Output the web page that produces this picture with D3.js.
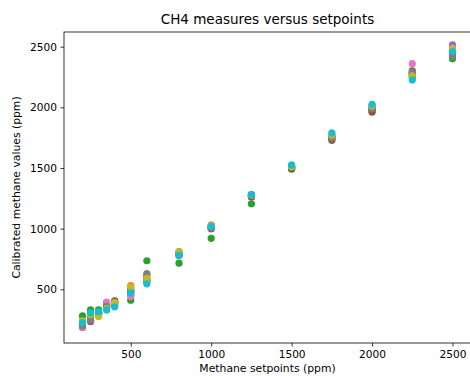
<!DOCTYPE html>
<html><head><meta charset="utf-8">
<script src="https://cdn.jsdelivr.net/npm/d3@7"></script>
<style>body{margin:0;background:#fff;}svg{display:block;font-family:"DejaVu Sans",sans-serif;}</style>
</head><body><svg id="c" width="470" height="376"></svg>
<script>
const setpoints = [200,250,300,350,400,500,600,800,1000,1250,1500,1750,2000,2250,2500];
const s0 = [210,270,300,350,380,480,570,780,1000,1260,1500,1760,1990,2260,2450];
const s1 = [240,300,310,360,390,530,590,800,1020,1270,1510,1770,2000,2270,2480];
const s2 = [280,330,330,370,400,410,735,715,920,1205,1490,1730,1970,2250,2400];
const s3 = [215,280,300,360,395,470,580,790,1000,1265,1500,1750,1980,2280,2470];
const s4 = [185,240,300,390,380,450,560,780,1005,1270,1510,1760,2005,2270,2515];
const s5 = [200,235,305,380,405,500,615,790,1010,1270,1495,1730,1960,2300,2440];
const s6 = [185,250,310,395,390,440,570,785,1015,1280,1510,1760,2010,2360,2490];
const s7 = [200,245,300,360,370,490,630,810,1030,1280,1505,1745,1990,2290,2420];
const s8 = [240,290,275,340,390,515,590,810,1020,1275,1510,1770,2010,2260,2480];
const s9 = [225,305,315,330,355,470,545,780,1015,1280,1525,1790,2025,2225,2460];
const series = [s0,s1,s2,s3,s4,s5,s6,s7,s8,s9];
const colors = ["#1f77b4","#ff7f0e","#2ca02c","#d62728","#9467bd","#8c564b","#e377c2","#7f7f7f","#bcbd22","#17becf"];
const xTicks = [500,1000,1500,2000,2500];
const yTicks = [500,1000,1500,2000,2500];
const title = "CH4 measures versus setpoints";
const xLabel = "Methane setpoints (ppm)";
const yLabel = "Calibrated methane values (ppm)";

const L=64, R=471, T=32, B=343;
const svg = d3.select("#c");
const x = d3.scaleLinear().domain([85,2615]).range([L,R]);
const y = d3.scaleLinear().domain([57,2621]).range([B,T]);

series.forEach((s,i)=>{
  svg.append("g").selectAll("circle").data(s).join("circle")
    .attr("cx",(d,j)=>x(setpoints[j])).attr("cy",d=>y(d))
    .attr("r",3.6).attr("fill",colors[i]);
});

svg.append("rect").attr("x",L).attr("y",T).attr("width",R-L).attr("height",B-T)
  .attr("fill","none").attr("stroke","#000").attr("stroke-width",0.8);

const xa = svg.append("g").attr("transform",`translate(0,${B})`)
  .call(d3.axisBottom(x).tickValues(xTicks).tickSize(3.5).tickPadding(3.5).tickFormat(d3.format("d")));
const ya = svg.append("g").attr("transform",`translate(${L},0)`)
  .call(d3.axisLeft(y).tickValues(yTicks).tickSize(3.5).tickPadding(3.5).tickFormat(d3.format("d")));
[xa,ya].forEach(a=>{
  a.select(".domain").remove();
  a.selectAll("line").attr("stroke","#000").attr("stroke-width",0.8);
  a.selectAll("text").attr("font-size","10.6px").attr("fill","#000").attr("font-family","DejaVu Sans");
});

svg.append("text").attr("x",(L+R)/2).attr("y",24).attr("text-anchor","middle")
  .attr("font-size","13.5px").attr("fill","#000").text(title);
svg.append("text").attr("x",(L+R)/2).attr("y",372).attr("text-anchor","middle")
  .attr("font-size","10.8px").attr("fill","#000").text(xLabel);
svg.append("text").attr("transform",`translate(20,${(T+B)/2}) rotate(-90)`).attr("text-anchor","middle")
  .attr("font-size","10.8px").attr("fill","#000").text(yLabel);
</script></body></html>
